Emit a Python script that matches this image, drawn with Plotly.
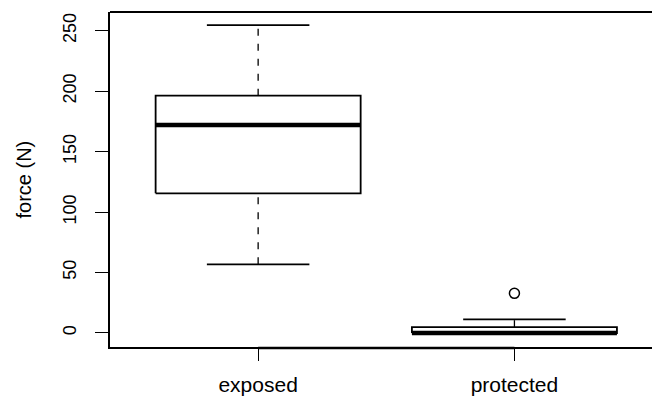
import plotly.graph_objects as go

categories = ["exposed", "protected"]
lower_whisker = [56.8, 0.0]
q1 = [115.5, 0.0]
median = [172.0, 0.0]
q3 = [196.3, 4.8]
upper_whisker = [254.7, 11.3]
outlier_x = ["protected"]
outlier_y = [32.8]
y_ticks = [0, 50, 100, 150, 200, 250]

BOXW = 0.4   # half box width (R boxwex 0.8)
CAPW = 0.2   # half staple width
pos = {c: i + 1 for i, c in enumerate(categories)}

fig = go.Figure()
line_col = "black"
for i, c in enumerate(categories):
    x0 = pos[c]
    # whiskers (dashed)
    fig.add_trace(go.Scatter(x=[x0, x0], y=[q3[i], upper_whisker[i]], mode="lines",
                             line=dict(color=line_col, width=1.3, dash="7px,8px"),
                             showlegend=False, hoverinfo="skip"))
    fig.add_trace(go.Scatter(x=[x0, x0], y=[lower_whisker[i], q1[i]], mode="lines",
                             line=dict(color=line_col, width=1.3, dash="7px,8px"),
                             showlegend=False, hoverinfo="skip"))
    # staples
    for w in (upper_whisker[i], lower_whisker[i]):
        fig.add_trace(go.Scatter(x=[x0 - CAPW, x0 + CAPW], y=[w, w], mode="lines",
                                 line=dict(color=line_col, width=1.8),
                                 showlegend=False, hoverinfo="skip"))
    # box
    fig.add_trace(go.Scatter(x=[x0 - BOXW, x0 + BOXW, x0 + BOXW, x0 - BOXW, x0 - BOXW],
                             y=[q1[i], q1[i], q3[i], q3[i], q1[i]], mode="lines",
                             fill="toself", fillcolor="white",
                             line=dict(color=line_col, width=1.8),
                             showlegend=False, hoverinfo="skip"))
    # median
    fig.add_trace(go.Scatter(x=[x0 - BOXW, x0 + BOXW], y=[median[i], median[i]], mode="lines",
                             line=dict(color=line_col, width=4.5),
                             showlegend=False, hoverinfo="skip"))

fig.add_trace(go.Scatter(x=[pos[c] for c in outlier_x], y=outlier_y, mode="markers",
                         marker=dict(symbol="circle-open", size=10, color=line_col,
                                     line=dict(width=1.5)),
                         showlegend=False, hoverinfo="skip"))

font = "Liberation Sans, Arial, Helvetica, sans-serif"
fig.update_layout(
    width=652, height=390,
    margin=dict(l=102, r=0, t=4, b=51),
    paper_bgcolor="white", plot_bgcolor="white",
    font=dict(family=font, size=18, color="black"),
    xaxis=dict(range=[0.422, 2.568], tickvals=[pos[c] for c in categories],
               ticktext=categories, ticks="outside", ticklen=12, tickwidth=1.3,
               tickcolor="black", showgrid=False, zeroline=False, showline=True,
               linecolor="black", linewidth=1.8, tickfont=dict(size=21),
               ticklabelstandoff=6),
    yaxis=dict(range=[-11.6, 265.5], tickvals=y_ticks, ticks="outside", ticklen=13,
               tickwidth=1.3, tickcolor="black", showgrid=False, zeroline=False,
               showline=True, linecolor="black", linewidth=1.8, tickangle=-90,
               tickfont=dict(size=18), ticklabelstandoff=12),
    shapes=[dict(type="line", xref="paper", yref="paper", x0=0, x1=1, y0=1, y1=1,
                 line=dict(color="black", width=2)),
            dict(type="line", xref="x", yref="paper", x0=pos[categories[0]],
                 x1=pos[categories[-1]], y0=-1.0 / 335, y1=-1.0 / 335,
                 line=dict(color="black", width=2.6))],
    annotations=[dict(text="force (N)", xref="paper", yref="paper",
                      x=(15 - 102) / 550, y=0.5, textangle=-90, showarrow=False,
                      xanchor="center", yanchor="middle", font=dict(size=20))],
)

fig.write_html("out.html")
